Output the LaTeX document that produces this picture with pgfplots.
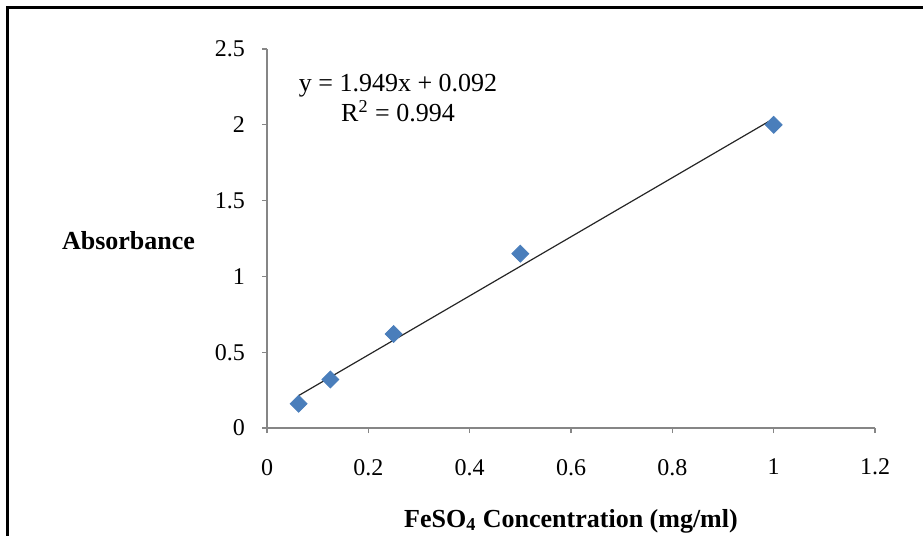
\documentclass[border=0pt]{standalone}
\usepackage{fontspec}
\setmainfont{Liberation Serif}
\usepackage{pgfplots}
\pgfplotsset{compat=1.18}
\definecolor{ptblue}{HTML}{4A7EBB}
\definecolor{axgray}{HTML}{868686}
\begin{document}
\begin{tikzpicture}
\path[use as bounding box] (0pt,0pt) rectangle (461.5pt,-268pt);
\draw[line width=1.6pt,black] (3.8pt,-268pt) -- (3.8pt,-3.8pt) -- (461.5pt,-3.8pt);
\begin{axis}[
  at={(133.5pt,-214pt)}, anchor=south west,
  scale only axis, width=304pt, height=189.5pt,
  xmin=0, xmax=1.2, ymin=0, ymax=2.5,
  axis x line=bottom, axis y line=left,
  axis line style={-, axgray, line width=0.6pt},
  xtick={0,0.2,0.4,0.6,0.8,1,1.2},
  ytick={0,0.5,1,1.5,2,2.5},
  xticklabels={0,0.2,0.4,0.6,0.8,1,1.2},
  yticklabels={0,0.5,1,1.5,2,2.5},
  tick align=outside, major tick length=2.5pt,
  tick style={axgray, line width=0.6pt},
  ticklabel style={font=\fontsize{12}{14}\selectfont, black},
  xticklabel style={yshift=-9.5pt},
  yticklabel style={xshift=-5pt},
  /pgf/number format/assume math mode=true,
  clip=false,
]
\addplot[black!85, line width=0.6pt, no marks] coordinates {(0.0625,0.214) (1,2.041)};
\addplot[only marks, mark=square*, mark size=3pt, mark options={rotate=45, fill=ptblue, draw=ptblue}] coordinates {
  (0.0625,0.16) (0.125,0.32) (0.25,0.62) (0.5,1.15) (1,2.0)
};
\end{axis}
\node[align=center, font=\fontsize{13}{15}\selectfont] at (199pt,-49pt) {y = 1.949x + 0.092\\R\textsuperscript{2} = 0.994};
\node[anchor=west, font=\bfseries\fontsize{13}{15}\selectfont] at (27.5pt,-120.5pt) {Absorbance};
\node[font=\bfseries\fontsize{13}{15}\selectfont] at (285.5pt,-260.5pt) {FeSO\textsubscript{4} Concentration (mg/ml)};
\end{tikzpicture}
\end{document}
